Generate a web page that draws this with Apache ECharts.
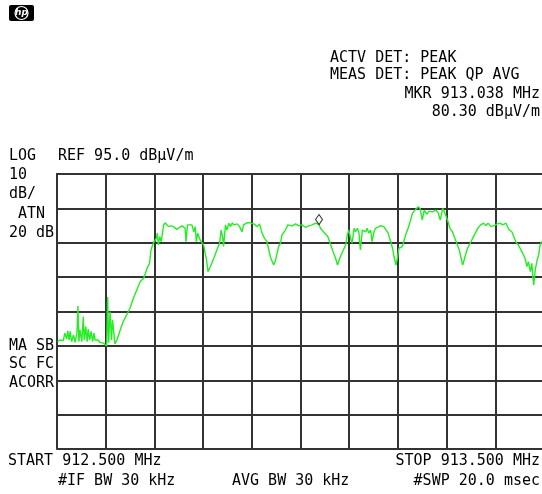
<!DOCTYPE html>
<html>
<head>
<meta charset="utf-8">
<script src="https://cdn.jsdelivr.net/npm/echarts@6/dist/echarts.min.js"></script>
<style>
    html, body { margin: 0; padding: 0; background: #fff; }
    #chart { width: 542px; height: 494px; }
</style>
</head>
<body>
<div id="chart"></div>
<script>
    // analyzer settings
    var REF_LEVEL = 95.0;      // dBuV/m, top graticule line
    var DB_PER_DIV = 10;
    var DIVS_Y = 8;
    var START_MHZ = 912.5;
    var STOP_MHZ = 913.5;

    // trace (MHz, dBuV/m)
    var traceFreq = [
        912.501,912.506,912.510,912.513,912.516,912.520,912.522,912.525,912.527,912.530,
        912.534,912.537,912.541,912.543,912.545,912.547,912.551,912.554,912.556,912.559,
        912.562,912.564,912.567,912.570,912.573,912.576,912.578,912.582,912.585,912.588,
        912.592,912.595,912.599,912.602,912.604,912.606,912.609,912.612,912.614,912.619,
        912.623,912.630,912.636,912.643,912.650,912.657,912.664,912.671,912.678,912.685,
        912.690,912.693,912.698,912.704,912.706,912.708,912.711,912.714,912.719,912.722,
        912.726,912.729,912.734,912.739,912.746,912.752,912.757,912.763,912.765,912.768,
        912.772,912.777,912.781,912.784,912.786,912.789,912.794,912.801,912.807,912.810,
        912.815,912.822,912.829,912.834,912.837,912.840,912.842,912.846,912.849,912.853,
        912.856,912.860,912.863,912.870,912.875,912.880,912.883,912.890,912.897,912.904,
        912.911,912.916,912.921,912.926,912.931,912.935,912.938,912.942,912.945,912.949,
        912.952,912.955,912.959,912.962,912.966,912.969,912.974,912.978,912.983,912.990,
        912.996,913.003,913.010,913.017,913.024,913.031,913.038,913.041,913.047,913.051,
        913.056,913.062,913.067,913.072,913.076,913.079,913.082,913.088,913.093,913.096,
        913.099,913.103,913.106,913.110,913.113,913.117,913.120,913.123,913.127,913.130,
        913.134,913.137,913.140,913.144,913.147,913.151,913.154,913.158,913.165,913.171,
        913.175,913.180,913.185,913.189,913.192,913.196,913.199,913.202,913.209,913.216,
        913.221,913.225,913.230,913.235,913.239,913.242,913.246,913.250,913.254,913.259,
        913.264,913.271,913.278,913.283,913.287,913.292,913.295,913.298,913.303,913.307,
        913.312,913.317,913.322,913.326,913.329,913.333,913.336,913.340,913.343,913.350,
        913.357,913.364,913.370,913.376,913.381,913.385,913.391,913.398,913.403,913.410,
        913.415,913.422,913.425,913.429,913.434,913.438,913.442,913.447,913.451,913.456,
        913.461,913.465,913.468,913.472,913.475,913.477,913.479,913.482,913.486,913.489,
        913.492,913.495,913.497
    ];
    var traceLevel = [
        46.2,46.7,47.2,46.5,48.7,47.0,49.4,46.7,49.2,46.2,
        48.2,46.0,48.7,56.6,46.2,49.7,46.2,53.5,46.7,50.6,
        46.2,49.9,46.7,49.2,46.2,48.7,46.7,46.2,46.7,46.0,
        46.5,45.8,45.3,45.0,59.2,45.9,54.9,46.7,52.6,45.6,
        46.7,49.7,52.1,54.0,56.0,58.9,61.3,63.7,64.7,67.6,
        69.0,72.9,75.0,76.3,77.8,74.4,76.8,75.3,80.2,80.8,
        80.5,79.7,79.9,79.7,78.9,79.5,79.9,79.2,75.3,80.2,
        80.5,80.2,78.2,79.7,75.3,77.8,75.8,74.4,70.0,66.6,
        68.1,70.5,73.2,74.9,78.7,76.8,73.9,80.2,78.7,80.7,
        79.7,80.8,80.2,80.5,79.7,78.2,80.2,80.8,80.8,80.5,
        79.7,80.5,77.8,76.3,75.3,72.9,71.0,69.5,68.5,70.0,
        72.0,73.9,74.9,77.3,76.8,78.7,80.2,80.7,79.9,80.5,
        79.9,80.2,79.5,79.9,80.2,80.7,80.3,79.2,78.2,78.2,
        76.8,74.4,72.4,70.5,68.5,69.0,71.0,72.9,74.4,77.3,
        78.7,76.3,74.9,79.2,78.2,79.2,77.8,72.9,78.7,79.2,
        78.2,79.2,77.8,78.7,75.3,78.2,79.2,79.7,80.0,79.7,
        79.2,77.8,75.3,73.4,71.0,68.5,70.5,73.4,73.9,77.3,
        79.2,81.1,83.6,84.5,85.0,85.5,84.8,81.6,84.5,83.3,
        84.2,84.0,84.5,83.6,81.6,85.0,85.2,83.1,81.1,79.2,
        78.2,76.3,74.4,72.9,71.0,68.5,70.0,72.0,73.4,75.3,
        77.3,79.2,80.2,80.7,80.0,80.7,79.7,80.0,80.4,80.7,
        80.2,80.7,79.7,78.7,78.2,76.8,75.3,74.4,73.4,72.0,
        70.5,68.1,69.5,66.6,69.0,65.1,62.7,67.1,70.0,71.5,
        74.4,75.3,74.9
    ];

    var markerFreq = 913.038;
    var markerLevel = 80.30;

    // annotation texts
    var headerLines = ['ACTV DET: PEAK', 'MEAS DET: PEAK QP AVG'];
    var markerLines = ['MKR 913.038 MHz', '80.30 dB\u00b5V/m'];
    var leftTop = ['LOG', '10', 'dB/', ' ATN', '20 dB'];
    var leftBottom = ['MA SB', 'SC FC', 'ACORR'];
    var refLabel = 'REF 95.0 dB\u00b5V/m';
    var footerLeft = ['START 912.500 MHz', '#IF BW 30 kHz'];
    var footerMid = 'AVG BW 30 kHz';
    var footerRight = ['STOP 913.500 MHz', '#SWP 20.0 msec'];

    var FONT = '15px "DejaVu Sans Mono", "Liberation Mono", monospace';

    // HP screen font is a bit taller than DejaVu, so stretch vertically
    function label(text, x, y, align) {
        return {
            type: 'text',
            x: x, y: y, scaleY: 1.1,
            style: {
                text: text, x: 0, y: 0, font: FONT, fill: '#000',
                textAlign: align || 'left', textVerticalAlign: 'middle'
            }
        };
    }

    var graphics = [
        // hp logo
        { type: 'rect', shape: { x: 9, y: 5, width: 25, height: 16, r: 2 }, style: { fill: '#000' } },
        { type: 'circle', shape: { cx: 21.5, cy: 13, r: 6.5 }, style: { fill: 'none', stroke: '#fff', lineWidth: 1.2 } },
        { type: 'text', style: { text: 'hp', x: 21.5, y: 13, fill: '#fff', font: 'italic bold 9px "DejaVu Sans"', textAlign: 'center', textVerticalAlign: 'middle' } },
        label(headerLines[0], 330, 57.5),
        label(headerLines[1], 330, 75),
        label(markerLines[0], 540, 94, 'right'),
        label(markerLines[1], 540, 112, 'right'),
        label(refLabel, 58, 155.5)
    ];
    var leftTopY = [155.5, 175, 194, 214, 233];
    leftTop.forEach(function (t, i) { graphics.push(label(t, 9, leftTopY[i])); });
    var leftBottomY = [346, 364, 382.5];
    leftBottom.forEach(function (t, i) { graphics.push(label(t, 9, leftBottomY[i])); });
    graphics.push(label(footerLeft[0], 8, 461));
    graphics.push(label(footerLeft[1], 58, 481));
    graphics.push(label(footerMid, 232, 481));
    graphics.push(label(footerRight[0], 540, 461, 'right'));
    graphics.push(label(footerRight[1], 540, 481, 'right'));

    var traceData = traceFreq.map(function (f, i) {
        return [f, traceLevel[i] - REF_LEVEL];
    });

    var gridLine = { show: true, lineStyle: { color: '#333', width: 2 } };

    var chart = echarts.init(document.getElementById('chart'), null, { renderer: 'canvas' });
    chart.setOption({
        animation: false,
        backgroundColor: '#fff',
        // right edge of graticule sits just past the window
        grid: { left: 57, top: 174, width: 487, height: 275, show: false, outerBoundsMode: 'none' },
        xAxis: {
            type: 'value', min: START_MHZ, max: STOP_MHZ, interval: 0.1,
            axisLine: gridLine, axisTick: { show: false }, axisLabel: { show: false },
            splitLine: gridLine
        },
        yAxis: {
            type: 'value', min: -DB_PER_DIV * DIVS_Y, max: 0, interval: DB_PER_DIV,
            axisLine: gridLine, axisTick: { show: false }, axisLabel: { show: false },
            splitLine: gridLine
        },
        series: [
            {
                type: 'line', data: traceData, showSymbol: false, symbol: 'none',
                lineStyle: { color: '#22ee22', width: 1.4 }, z: 3
            },
            {
                type: 'scatter', data: [[markerFreq, markerLevel - REF_LEVEL]],
                symbol: 'diamond', symbolSize: [7, 10], symbolOffset: [0, -5],
                itemStyle: { color: '#fff', borderColor: '#000', borderWidth: 1 }, z: 4
            }
        ],
        graphic: graphics
    });
</script>
</body>
</html>
